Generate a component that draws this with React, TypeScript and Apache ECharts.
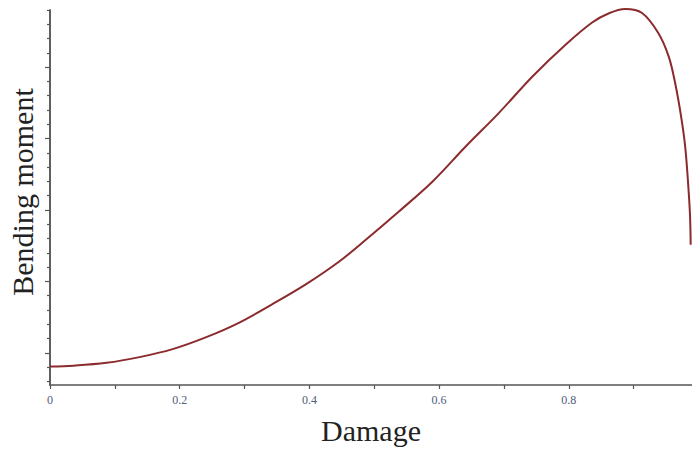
import React, { useEffect, useRef } from "react";
import * as echarts from "echarts";

const damage = [0, 0.036, 0.087, 0.138, 0.189, 0.241, 0.292, 0.343, 0.395, 0.446, 0.487, 0.538, 0.59, 0.641, 0.692, 0.744, 0.795, 0.836, 0.862, 0.887, 0.913, 0.938, 0.954, 0.964, 0.974, 0.98, 0.985, 0.987, 0.988];
const moment = [-0.192, -0.18, -0.14, -0.06, 0.052, 0.22, 0.424, 0.682, 0.962, 1.279, 1.583, 1.979, 2.399, 2.889, 3.357, 3.87, 4.314, 4.625, 4.755, 4.814, 4.758, 4.478, 4.15, 3.777, 3.263, 2.843, 2.237, 1.909, 1.513];
const majorYTicks = [0, 1, 2, 3, 4];
const minorYTicks = [-0.4, -0.2, 0.2, 0.4, 0.6, 0.8, 1.2, 1.4, 1.6, 1.8, 2.2, 2.4, 2.6, 2.8, 3.2, 3.4, 3.6, 3.8, 4.2, 4.4, 4.6, 4.8];
const xTitle = "Damage";
const yTitle = "Bending moment";

export default function App() {
  const ref = useRef<HTMLDivElement>(null);
  useEffect(() => {
    if (!ref.current) return;
    const chart = echarts.init(ref.current, null, { renderer: "svg" });
    const axisLine = { show: true, onZero: false, lineStyle: { color: "#555", width: 1.5 } };
    const yBase = {
      type: "value",
      min: -0.45,
      max: 4.8,
      position: "left",
      axisLine,
      splitLine: { show: false },
      axisLabel: { show: false },
    };
    chart.setOption({
      animation: false,
      backgroundColor: "#fff",
      grid: { left: 50, top: 10, right: 0, height: 375, containLabel: false },
      xAxis: {
        type: "value",
        min: 0,
        max: 0.99,
        interval: 0.1,
        axisLine,
        axisTick: { show: true, length: 4, lineStyle: { color: "#555", width: 1.2 } },
        splitLine: { show: false },
        axisLabel: {
          margin: 9,
          fontFamily: "Liberation Serif",
          fontSize: 12,
          color: "#4e5d7c",
          showMaxLabel: false,
          formatter: (v: number) => {
            const k = Math.round(v * 10);
            if (k % 2 !== 0 || k >= 10) return "";
            return k === 0 ? "0" : (k / 10).toFixed(1);
          },
        },
      },
      yAxis: [
        {
          ...yBase,
          axisTick: { show: true, length: 5, customValues: majorYTicks, lineStyle: { color: "#555", width: 1.2 } },
        },
        {
          ...yBase,
          axisTick: { show: true, length: 3, customValues: minorYTicks, lineStyle: { color: "#555", width: 1.2 } },
        },
      ],
      series: [
        {
          type: "line",
          data: damage.map((d, i) => [d, moment[i]]),
          smooth: 0.35,
          showSymbol: false,
          clip: false,
          lineStyle: { color: "#8b2b2e", width: 2 },
        },
      ],
      graphic: [
        {
          type: "text",
          x: 22,
          y: 192,
          rotation: Math.PI / 2,
          style: {
            text: yTitle,
            fontFamily: "Liberation Serif",
            fontSize: 30,
            fill: "#222",
            textAlign: "center",
            textVerticalAlign: "middle",
          },
        },
        {
          type: "text",
          x: 371,
          y: 430,
          style: {
            text: xTitle,
            fontFamily: "Liberation Serif",
            fontSize: 30,
            fill: "#222",
            textAlign: "center",
            textVerticalAlign: "middle",
          },
        },
      ],
    });
    return () => chart.dispose();
  }, []);
  return <div ref={ref} style={{ position: "fixed", left: 0, top: 0, width: 692, height: 452 }} />;
}
